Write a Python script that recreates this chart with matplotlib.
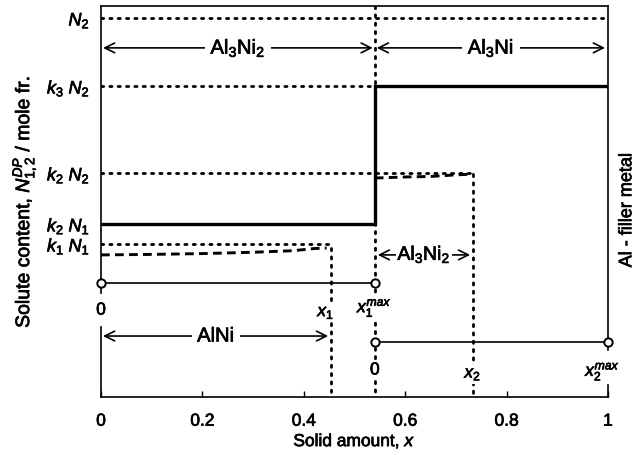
import matplotlib
matplotlib.use('Agg')
import matplotlib.pyplot as plt
import matplotlib.patheffects as pe
from matplotlib.text import Text

plt.rcParams['font.family'] = ['Liberation Sans', 'DejaVu Sans']
plt.rcParams['mathtext.fontset'] = 'custom'
plt.rcParams['mathtext.rm'] = 'Liberation Sans'
plt.rcParams['mathtext.it'] = 'Liberation Sans:italic'
plt.rcParams['mathtext.bf'] = 'Liberation Sans:bold'

# ---- data ----
x_ticks = [0, 0.2, 0.4, 0.6, 0.8, 1]
x_tick_labels = ['0', '0.2', '0.4', '0.6', '0.8', '1']

level_labels = [r'$N_2$', r'$k_3\ N_2$', r'$k_2\ N_2$', r'$k_2\ N_1$', r'$k_1\ N_1$']
level_values = [1.0, 0.743, 0.415, 0.223, 0.147]
N2, k3N2, k2N2, k2N1, k1N1 = level_values

x1, x1max, x2, x2max = 0.454, 0.540, 0.734, 1.0

# dashed (calculated) curves
dash1_x = [0.0, 0.10, 0.20, 0.30, 0.38, 0.42, 0.445]
dash1_y = [0.106, 0.108, 0.111, 0.116, 0.122, 0.130, 0.132]
dash2_x = [0.540, 0.60, 0.65, 0.70, 0.734]
dash2_y = [0.396, 0.400, 0.402, 0.408, 0.411]

# solid step profile
step_x = [0.0, x1max, x1max, x2max]
step_y = [k2N1, k2N1, k3N2, k3N2]

# layout rows (in y units of the chart)
y_top, y_bot = 1.045, -0.430
row_phase_top = 0.887
row_phase_mid = 0.106
row_phase_low = -0.200
row_base1 = 0.0
row_base2 = -0.223

fig = plt.figure(figsize=(6.4, 4.55), dpi=100)
ax = fig.add_axes([101/640, 58/455, 507/640, 391/455])
ax.set_xlim(0, 1)
ax.set_ylim(y_bot, y_top)

for s in ['left', 'right']:
    ax.spines[s].set_visible(False)
for s in ['top', 'bottom']:
    ax.spines[s].set_linewidth(1.2)

K = 'black'
dot = dict(color=K, lw=2.0, linestyle=(0, (0.8, 2.2)), dash_capstyle='round')
dash = dict(color=K, lw=2.1, linestyle=(0, (3.0, 1.8)))

# split left / right frame lines
ax.plot([0, 0], [y_top, -0.038], color=K, lw=1.2, clip_on=False)
ax.plot([0, 0], [-0.166, y_bot], color=K, lw=1.2, clip_on=False)
ax.plot([1, 1], [y_top, -0.253], color=K, lw=1.2, clip_on=False)
ax.plot([1, 1], [-0.385, y_bot], color=K, lw=1.2, clip_on=False)

# dotted horizontal reference levels
ax.plot([0, 1], [N2, N2], **dot)
ax.plot([0, x1max], [k3N2, k3N2], **dot)
ax.plot([0, x2], [k2N2, k2N2], **dot)
ax.plot([0, x1], [k1N1, k1N1], **dot)

# dotted verticals
ax.plot([x1max, x1max], [y_top, y_bot], **dot)
ax.plot([x1, x1], [dash1_y[-1], y_bot], **dot)
ax.plot([x2, x2], [dash2_y[-1], y_bot], **dot)

# dashed curves
ax.plot(dash1_x, dash1_y, **dash)
ax.plot(dash2_x, dash2_y, **dash)

# solid step
ax.plot(step_x, step_y, color=K, lw=2.4, solid_joinstyle='miter')

# base lines with open circles
ax.plot([0, x1max], [row_base1, row_base1], color=K, lw=1.2, marker='o',
        ms=6, mfc='white', mec=K, mew=1.4, clip_on=False, zorder=5)
ax.plot([x1max, x2max], [row_base2, row_base2], color=K, lw=1.2, marker='o',
        ms=6, mfc='white', mec=K, mew=1.4, clip_on=False, zorder=5)

# phase arrows
def phase(x0, x1_, y, label, fs=14.5, pad=4):
    ax.annotate('', xy=(x0, y), xytext=(x1_, y),
                arrowprops=dict(arrowstyle='<->,head_length=0.5,head_width=0.25',
                                lw=1.2, color=K, shrinkA=0, shrinkB=0,
                                mutation_scale=14))
    ax.text((x0 + x1_) / 2, y, label, ha='center', va='center', fontsize=fs,
            bbox=dict(fc='white', ec='none', pad=pad), zorder=6)

phase(0.004, x1max - 0.004, row_phase_top, r'Al$_3$Ni$_2$')
phase(x1max + 0.004, x2max - 0.006, row_phase_top, r'Al$_3$Ni')
phase(0.004, x1 - 0.006, row_phase_low, 'AlNi')
phase(x1max + 0.006, x2 - 0.006, row_phase_mid, r'Al$_3$Ni$_2$', fs=14, pad=1)

# small labels
wb = dict(fc='white', ec='none', pad=1)
ax.text(0, -0.102, '0', ha='center', va='center', fontsize=12.5)
ax.text(x1 - 0.01, -0.113, r'$x_1$', ha='center', va='center', fontsize=12.5, bbox=wb)
ax.text(x1max, -0.095, r'$x_1^{max}$', ha='center', va='center', fontsize=12.5, bbox=wb)
ax.text(x1max, -0.328, '0', ha='center', va='center', fontsize=12.5, bbox=wb)
ax.text(x2, -0.345, r'$x_2$', ha='center', va='center', fontsize=12.5, bbox=wb)
ax.text(x2max - 0.01, -0.335, r'$x_2^{max}$', ha='center', va='center', fontsize=12.5,
        bbox=wb, clip_on=False)

# axes ticks & labels
ax.set_xticks(x_ticks, x_tick_labels)
ax.tick_params(axis='x', direction='in', length=4, width=1.0, pad=12, labelsize=12.5)
ax.set_yticks(level_values, level_labels)
ax.tick_params(axis='y', length=0, pad=8, labelsize=13)

ax.set_xlabel(r'Solid amount, $x$', fontsize=12.5)
ax.xaxis.set_label_coords(0.5, -0.09)
ax.set_ylabel(r'Solute content, $N_{1,2}^{DP}$ / mole fr.', fontsize=14)
ax.yaxis.set_label_coords(-0.122, 0.5)

ax.text(1.037, 0.478, 'Al - filler metal', rotation=90, ha='center', va='center',
        fontsize=13, transform=ax.transAxes)

for t in fig.findobj(Text):
    t.set_path_effects([pe.withStroke(linewidth=0.5, foreground='black')])

fig.savefig('out.png', dpi=100)
